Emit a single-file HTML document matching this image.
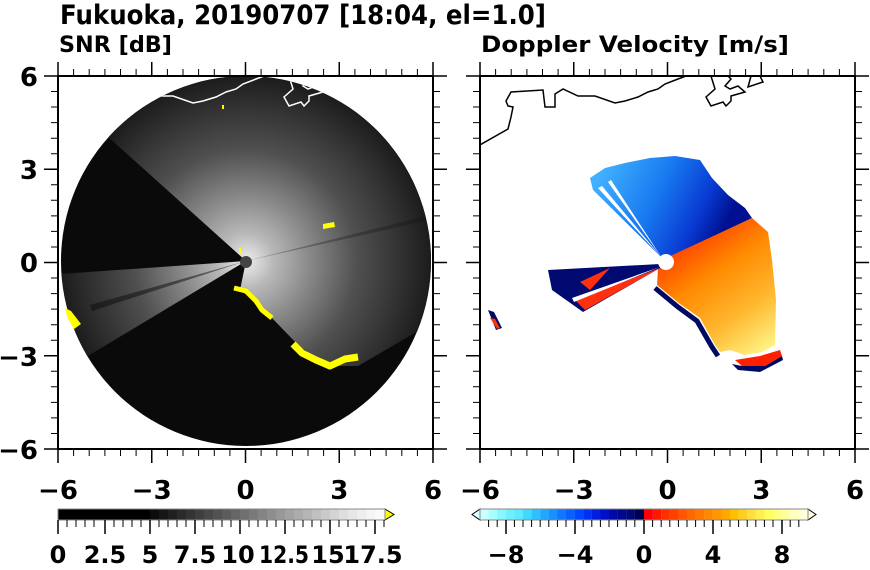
<!DOCTYPE html>
<html><head><meta charset="utf-8"><style>
html,body{margin:0;padding:0;background:#fff;}
svg{display:block;}
text{font-family:"DejaVu Sans","Liberation Sans",sans-serif;font-weight:bold;fill:#000;}
</style></head><body>
<svg width="870" height="570" viewBox="0 0 870 570" xmlns="http://www.w3.org/2000/svg">
<defs>
<radialGradient id="snr" gradientUnits="userSpaceOnUse" cx="246" cy="261" r="185">
<stop offset="0" stop-color="#eeeeee"/><stop offset="0.15" stop-color="#b8b8b8"/>
<stop offset="0.35" stop-color="#888888"/><stop offset="0.6" stop-color="#505050"/><stop offset="0.85" stop-color="#303030"/><stop offset="1" stop-color="#1c1c1c"/>
</radialGradient>
<clipPath id="circ"><circle cx="246" cy="261" r="185"/></clipPath>
<clipPath id="rbox"><rect x="480" y="76" width="375" height="373"/></clipPath>
<linearGradient id="blu" gradientUnits="userSpaceOnUse" x1="600" y1="175" x2="720" y2="235">
<stop offset="0" stop-color="#40b0ff"/><stop offset="0.45" stop-color="#1878f0"/><stop offset="0.8" stop-color="#0838d0"/><stop offset="1" stop-color="#001090"/>
</linearGradient>
<linearGradient id="org" gradientUnits="userSpaceOnUse" x1="690" y1="230" x2="770" y2="345">
<stop offset="0" stop-color="#ff3800"/><stop offset="0.35" stop-color="#ff8a00"/><stop offset="0.7" stop-color="#ffb830"/><stop offset="1" stop-color="#fff080"/>
</linearGradient>
</defs>

<text x="60" y="24" font-size="27" textLength="486" lengthAdjust="spacingAndGlyphs">Fukuoka, 20190707 [18:04, el=1.0]</text>
<text x="59" y="52" font-size="22" textLength="113" lengthAdjust="spacingAndGlyphs">SNR [dB]</text>
<text x="481" y="52" font-size="22" textLength="308" lengthAdjust="spacingAndGlyphs">Doppler Velocity [m/s]</text>

<!-- LEFT PANEL -->
<circle cx="246" cy="261" r="185" fill="#0a0a0a"/>
<g clip-path="url(#circ)">
<path d="M246,261 L108.5,137.2 A185,185 0 1,1 420,330 L358,366 L330,366 L300,347 L272,318 L258,303 L240,290 Z" fill="url(#snr)"/>
<path d="M246,261 L61.4,273.9 A185,185 0 0,0 87.4,356.3 Z" fill="url(#snr)"/>
<path d="M246,261 L100,150 L104,146 Z" fill="#0a0a0a" opacity="0.5"/>
<path d="M246,261 L90,305 L92,311 Z" fill="#0a0a0a" opacity="0.5"/>
<path d="M246,261 L430,215 L430,220 Z" fill="#111" opacity="0.3"/>
<polyline fill="none" stroke="#fff" stroke-width="1.5" points="56,146 86,129 89,117 91,107 86,106 84,101 89,92 121,90 123,107 133,107 133,94 141,89 156,96 173,96 193,103 203,101 216,97 226,92 236,89 243,84 256,79 264,76"/>
<polyline fill="none" stroke="#fff" stroke-width="1.5" points="289,76 293,89 284,97 289,106 301,102 304,106 309,101 309,96 323,92 316,86 308,89 303,86 309,79 306,76"/>
<polyline fill="none" stroke="#fff" stroke-width="1.5" points="329,76 326,87 341,82 338,76"/>
</g>
<circle cx="246" cy="262" r="6" fill="#444"/>
<g fill="none" stroke="#ffff00" stroke-linejoin="round">
<polyline stroke-width="5" points="234,288 246,291 256,301 262,310 272,318"/>
<polyline stroke-width="7" points="293,344 302,353 316,360 330,366 345,359 358,357"/>
</g>
<g fill="#ffff00">
<polygon points="65,308 71,311 81,324 74,329 68,319"/>
<polygon points="323,224 334,222 335,227 323,229"/>
<rect x="239" y="248" width="2" height="6"/><rect x="222" y="105" width="2" height="4"/>
</g>

<!-- RIGHT PANEL -->
<g clip-path="url(#rbox)">
<polyline fill="none" stroke="#000" stroke-width="1.5" points="478,146 508,129 511,117 513,107 508,106 506,101 511,92 543,90 545,107 555,107 555,94 563,89 578,96 595,96 615,103 625,101 638,97 648,92 658,89 665,84 678,79 686,76"/>
<polyline fill="none" stroke="#000" stroke-width="1.5" points="711,76 715,89 706,97 711,106 723,102 726,106 731,101 731,96 745,92 738,86 730,89 725,86 731,79 728,76"/>
<polyline fill="none" stroke="#000" stroke-width="1.5" points="751,76 748,87 763,82 760,76"/>
</g>
<polygon fill="url(#blu)" points="662,258 593,190 590,178 605,168 625,163 650,158 675,156 700,160 712,178 728,195 745,208 752,218 690,248 670,258"/>
<polygon fill="#fff" points="662,258 598,188 602,186"/>
<polygon fill="#fff" points="662,258 608,182 611,180"/>
<polygon fill="url(#org)" points="666,258 752,218 768,232 772,260 776,300 775,345 762,352 745,355 730,350 720,352 715,345 700,318 680,304 657,285 658,268"/>
<polyline fill="none" stroke="#000a60" stroke-width="5" points="655,288 678,307 697,321 712,347 718,356"/>
<polygon fill="#ff2000" points="735,360 760,356 780,350 782,356 765,366 742,366"/>
<polygon fill="#000a60" points="732,364 742,366 765,366 782,356 783,360 760,372 738,370"/>
<polygon fill="#000a70" points="660,264 548,270 552,290 583,312 660,268"/>
<polygon fill="#ff3010" points="660,268 575,300 585,310"/>
<polygon fill="#ff3010" points="610,268 590,290 580,282"/>
<polygon fill="#fff" points="660,267 572,298 574,302"/>
<polygon fill="#000a60" points="488,310 494,312 502,328 496,330"/>
<polygon fill="#ff3010" points="490,318 495,319 500,328 497,329"/>
<circle cx="666" cy="262" r="8" fill="#fff"/>

<!-- axes frames & ticks -->
<g stroke="#000" fill="none">
<rect x="58" y="76" width="375" height="373" stroke-width="2"/>
<rect x="480" y="76" width="375" height="373" stroke-width="2"/>
</g>
<g stroke="#000" stroke-width="1.5">
<path d="
M58,449v14M151.75,449v14M245.5,449v14M339.25,449v14M433,449v14
M58,76v-14M151.75,76v-14M245.5,76v-14M339.25,76v-14M433,76v-14
M58,76h-14M58,169.25h-14M58,262.5h-14M58,355.75h-14M58,449h-14
M433,76h14M433,169.25h14M433,262.5h14M433,355.75h14M433,449h14
M480,449v14M573.75,449v14M667.5,449v14M761.25,449v14M855,449v14
M480,76v-14M573.75,76v-14M667.5,76v-14M761.25,76v-14M855,76v-14
M480,76h-14M480,169.25h-14M480,262.5h-14M480,355.75h-14M480,449h-14
M855,76h14M855,169.25h14M855,262.5h14M855,355.75h14M855,449h14"/>
</g>
<g stroke="#000" stroke-width="1">
<path d="
M73.6,449v7M89.2,449v7M104.9,449v7M120.5,449v7M136.1,449v7M167.4,449v7M183,449v7M198.6,449v7M214.3,449v7M229.9,449v7M261.1,449v7M276.8,449v7M292.4,449v7M308,449v7M323.6,449v7M354.9,449v7M370.5,449v7M386.1,449v7M401.8,449v7M417.4,449v7
M73.6,76v-7M89.2,76v-7M104.9,76v-7M120.5,76v-7M136.1,76v-7M167.4,76v-7M183,76v-7M198.6,76v-7M214.3,76v-7M229.9,76v-7M261.1,76v-7M276.8,76v-7M292.4,76v-7M308,76v-7M323.6,76v-7M354.9,76v-7M370.5,76v-7M386.1,76v-7M401.8,76v-7M417.4,76v-7
M58,91.5h-7M58,107h-7M58,122.6h-7M58,138.2h-7M58,153.7h-7M58,184.8h-7M58,200.3h-7M58,215.9h-7M58,231.4h-7M58,247h-7M58,278h-7M58,293.6h-7M58,309.1h-7M58,324.7h-7M58,340.2h-7M58,371.3h-7M58,386.8h-7M58,402.4h-7M58,417.9h-7M58,433.5h-7
M433,91.5h7M433,107h7M433,122.6h7M433,138.2h7M433,153.7h7M433,184.8h7M433,200.3h7M433,215.9h7M433,231.4h7M433,247h7M433,278h7M433,293.6h7M433,309.1h7M433,324.7h7M433,340.2h7M433,371.3h7M433,386.8h7M433,402.4h7M433,417.9h7M433,433.5h7"/>
<path transform="translate(422,0)" d="
M73.6,449v7M89.2,449v7M104.9,449v7M120.5,449v7M136.1,449v7M167.4,449v7M183,449v7M198.6,449v7M214.3,449v7M229.9,449v7M261.1,449v7M276.8,449v7M292.4,449v7M308,449v7M323.6,449v7M354.9,449v7M370.5,449v7M386.1,449v7M401.8,449v7M417.4,449v7
M73.6,76v-7M89.2,76v-7M104.9,76v-7M120.5,76v-7M136.1,76v-7M167.4,76v-7M183,76v-7M198.6,76v-7M214.3,76v-7M229.9,76v-7M261.1,76v-7M276.8,76v-7M292.4,76v-7M308,76v-7M323.6,76v-7M354.9,76v-7M370.5,76v-7M386.1,76v-7M401.8,76v-7M417.4,76v-7
M58,91.5h-7M58,107h-7M58,122.6h-7M58,138.2h-7M58,153.7h-7M58,184.8h-7M58,200.3h-7M58,215.9h-7M58,231.4h-7M58,247h-7M58,278h-7M58,293.6h-7M58,309.1h-7M58,324.7h-7M58,340.2h-7M58,371.3h-7M58,386.8h-7M58,402.4h-7M58,417.9h-7M58,433.5h-7
M433,91.5h7M433,107h7M433,122.6h7M433,138.2h7M433,153.7h7M433,184.8h7M433,200.3h7M433,215.9h7M433,231.4h7M433,247h7M433,278h7M433,293.6h7M433,309.1h7M433,324.7h7M433,340.2h7M433,371.3h7M433,386.8h7M433,402.4h7M433,417.9h7M433,433.5h7"/>
</g>

<!-- tick labels -->
<g font-size="26" text-anchor="middle">
<text x="58" y="499">−6</text><text x="151.75" y="499">−3</text><text x="245.5" y="499">0</text><text x="339.25" y="499">3</text><text x="433" y="499">6</text>
<text x="480" y="499">−6</text><text x="573.75" y="499">−3</text><text x="667.5" y="499">0</text><text x="761.25" y="499">3</text><text x="855" y="499">6</text>
</g>
<g font-size="26" text-anchor="end">
<text x="38" y="86">6</text><text x="38" y="179">3</text><text x="38" y="272">0</text><text x="38" y="366">−3</text><text x="38" y="459">−6</text>
</g>

<!-- SNR colorbar -->
<g>
<rect x="58" y="509" width="92" height="11" fill="#000"/>
<rect x="150" y="509" width="9" height="11" fill="#0c0c0c"/><rect x="159" y="509" width="9" height="11" fill="#161616"/><rect x="168" y="509" width="9" height="11" fill="#202020"/><rect x="177" y="509" width="9" height="11" fill="#2a2a2a"/><rect x="186" y="509" width="9" height="11" fill="#343434"/><rect x="195" y="509" width="9" height="11" fill="#3e3e3e"/><rect x="204" y="509" width="9" height="11" fill="#484848"/><rect x="213" y="509" width="9" height="11" fill="#525252"/><rect x="222" y="509" width="9" height="11" fill="#5c5c5c"/><rect x="231" y="509" width="9" height="11" fill="#666"/><rect x="240" y="509" width="9" height="11" fill="#707070"/><rect x="249" y="509" width="9" height="11" fill="#7a7a7a"/><rect x="258" y="509" width="9" height="11" fill="#848484"/><rect x="267" y="509" width="9" height="11" fill="#8e8e8e"/><rect x="276" y="509" width="9" height="11" fill="#989898"/><rect x="285" y="509" width="9" height="11" fill="#a2a2a2"/><rect x="294" y="509" width="9" height="11" fill="#acacac"/><rect x="303" y="509" width="9" height="11" fill="#b6b6b6"/><rect x="312" y="509" width="9" height="11" fill="#c0c0c0"/><rect x="321" y="509" width="9" height="11" fill="#cacaca"/><rect x="330" y="509" width="9" height="11" fill="#d4d4d4"/><rect x="339" y="509" width="9" height="11" fill="#dedede"/><rect x="348" y="509" width="9" height="11" fill="#e6e6e6"/><rect x="357" y="509" width="9" height="11" fill="#eeeeee"/><rect x="366" y="509" width="9" height="11" fill="#f4f4f4"/><rect x="375" y="509" width="10" height="11" fill="#fafafa"/>
<polygon points="385,509 394,514.5 385,520" fill="#ffff00" stroke="#000" stroke-width="1"/>
<rect x="58" y="509" width="327" height="11" fill="none" stroke="#888" stroke-width="1"/>
<path stroke="#000" stroke-width="1.5" d="M58,520v14M105,520v14M150,520v14M195,520v14M240,520v14M285,520v14M330,520v14M375,520v14"/>
<path stroke="#000" stroke-width="1" d="M67,520v7M76,520v7M85,520v7M94,520v7M114,520v7M123,520v7M132,520v7M141,520v7M159,520v7M168,520v7M177,520v7M186,520v7M204,520v7M213,520v7M222,520v7M231,520v7M249,520v7M258,520v7M267,520v7M276,520v7M294,520v7M303,520v7M312,520v7M321,520v7M339,520v7M348,520v7M357,520v7M366,520v7M384,520v7"/>
<g font-size="24" text-anchor="middle">
<text x="58" y="563">0</text><text x="105" y="563">2.5</text><text x="150" y="563">5</text><text x="195" y="563">7.5</text><text x="238" y="563">10</text><text x="284" y="563" textLength="50" lengthAdjust="spacingAndGlyphs">12.5</text><text x="328" y="563">15</text><text x="373" y="563">17.5</text>
</g>
</g>

<!-- Doppler colorbar -->
<g>
<polygon points="480,509 472,514.5 480,520" fill="#e0ffff" stroke="#000" stroke-width="1"/>
<g>
<rect x="480" y="509" width="8.7" height="11" fill="#ccffff"/><rect x="488.6" y="509" width="8.7" height="11" fill="#a8ffff"/><rect x="497.2" y="509" width="8.7" height="11" fill="#88f8ff"/><rect x="505.8" y="509" width="8.7" height="11" fill="#70f0ff"/><rect x="514.4" y="509" width="8.7" height="11" fill="#60e8ff"/><rect x="523" y="509" width="8.7" height="11" fill="#40d8ff"/><rect x="531.6" y="509" width="8.7" height="11" fill="#30c0ff"/><rect x="540.2" y="509" width="8.7" height="11" fill="#20a8ff"/><rect x="548.8" y="509" width="8.7" height="11" fill="#1890ff"/><rect x="557.4" y="509" width="8.7" height="11" fill="#1078ff"/><rect x="566" y="509" width="8.7" height="11" fill="#0860ff"/><rect x="574.6" y="509" width="8.7" height="11" fill="#0048ff"/><rect x="583.2" y="509" width="8.7" height="11" fill="#0030f0"/><rect x="591.8" y="509" width="8.7" height="11" fill="#0020e0"/><rect x="600.4" y="509" width="8.7" height="11" fill="#0010c8"/><rect x="609" y="509" width="8.7" height="11" fill="#0008a8"/><rect x="617.6" y="509" width="8.7" height="11" fill="#000890"/><rect x="626.2" y="509" width="8.7" height="11" fill="#000878"/><rect x="634.8" y="509" width="9.2" height="11" fill="#000050"/>
<rect x="644" y="509" width="8.7" height="11" fill="#ff0000"/><rect x="652.6" y="509" width="8.7" height="11" fill="#ff1800"/><rect x="661.2" y="509" width="8.7" height="11" fill="#ff3000"/><rect x="669.8" y="509" width="8.7" height="11" fill="#ff4000"/><rect x="678.4" y="509" width="8.7" height="11" fill="#ff5800"/><rect x="687" y="509" width="8.7" height="11" fill="#ff6800"/><rect x="695.6" y="509" width="8.7" height="11" fill="#ff7800"/><rect x="704.2" y="509" width="8.7" height="11" fill="#ff8800"/><rect x="712.8" y="509" width="8.7" height="11" fill="#ff9800"/><rect x="721.4" y="509" width="8.7" height="11" fill="#ffa800"/><rect x="730" y="509" width="8.7" height="11" fill="#ffc000"/><rect x="738.6" y="509" width="8.7" height="11" fill="#ffd020"/><rect x="747.2" y="509" width="8.7" height="11" fill="#ffe040"/><rect x="755.8" y="509" width="8.7" height="11" fill="#fff050"/><rect x="764.4" y="509" width="8.7" height="11" fill="#ffff60"/><rect x="773" y="509" width="8.7" height="11" fill="#ffff80"/><rect x="781.6" y="509" width="8.7" height="11" fill="#ffffa0"/><rect x="790.2" y="509" width="8.7" height="11" fill="#ffffc0"/><rect x="798.8" y="509" width="9.2" height="11" fill="#ffffd8"/>
</g>
<polygon points="808,509 816,514.5 808,520" fill="#ffffe0" stroke="#000" stroke-width="1"/>
<rect x="480" y="509" width="328" height="11" fill="none" stroke="#888" stroke-width="1"/>
<path stroke="#000" stroke-width="1.5" d="M506,520v14M575,520v14M644,520v14M713,520v14M782,520v14"/>
<path stroke="#000" stroke-width="1" d="M488.6,520v7M497.2,520v7M514.4,520v7M523,520v7M531.6,520v7M540.2,520v7M548.8,520v7M557.4,520v7M566,520v7M583.2,520v7M591.8,520v7M600.4,520v7M609,520v7M617.6,520v7M626.2,520v7M634.8,520v7M652.6,520v7M661.2,520v7M669.8,520v7M678.4,520v7M687,520v7M695.6,520v7M704.2,520v7M721.4,520v7M730,520v7M738.6,520v7M747.2,520v7M755.8,520v7M764.4,520v7M773,520v7M790.2,520v7M798.8,520v7"/>
<g font-size="24" text-anchor="middle">
<text x="506" y="563">−8</text><text x="575" y="563">−4</text><text x="644" y="563">0</text><text x="713" y="563">4</text><text x="782" y="563">8</text>
</g>
</g>
</svg>
</body></html>
